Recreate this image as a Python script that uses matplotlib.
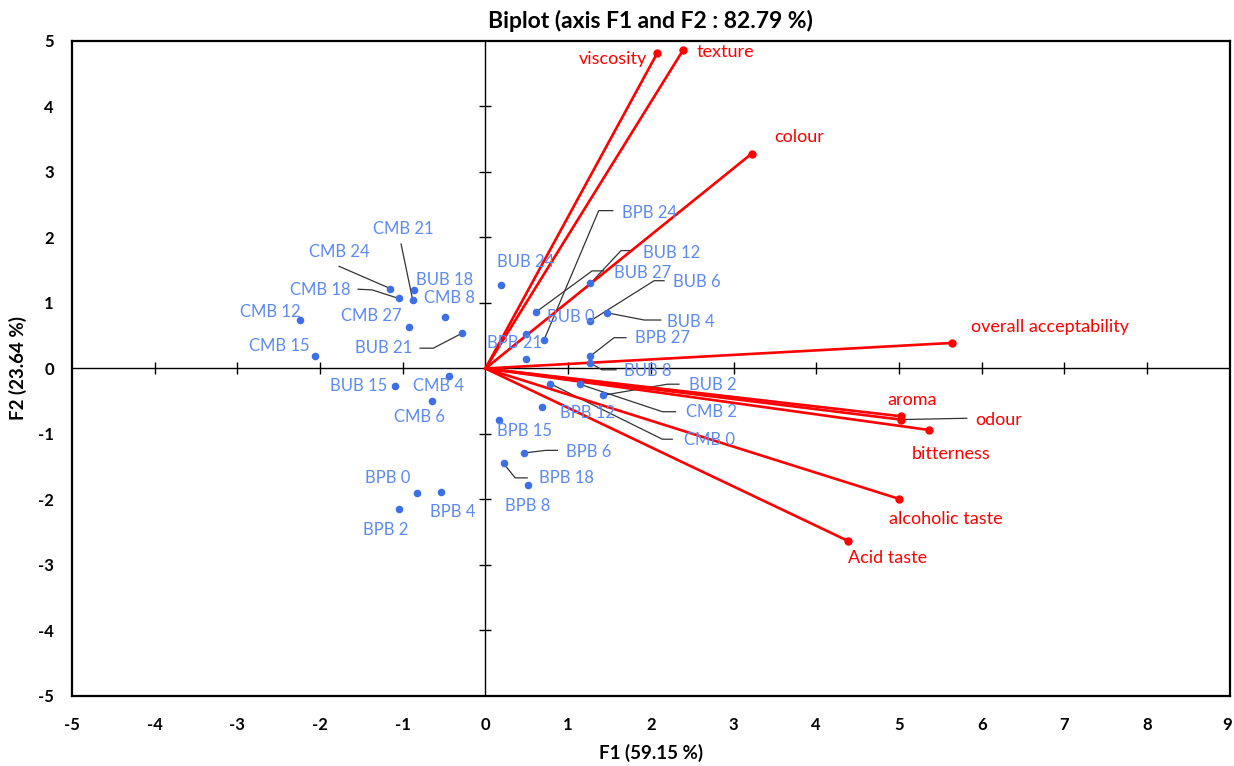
import matplotlib
matplotlib.use("Agg")
import matplotlib.pyplot as plt
from matplotlib.transforms import ScaledTranslation

plt.rcParams["font.family"] = ["Lato", "DejaVu Sans"]
plt.rcParams["axes.unicode_minus"] = False

# observations (F1, F2)
obs_names = ["CMB 0", "CMB 2", "CMB 4", "CMB 6", "CMB 8", "CMB 12", "CMB 15", "CMB 18", "CMB 21", "CMB 24", "CMB 27",
             "BUB 0", "BUB 2", "BUB 4", "BUB 6", "BUB 8", "BUB 12", "BUB 15", "BUB 18", "BUB 21", "BUB 24", "BUB 27",
             "BPB 0", "BPB 2", "BPB 4", "BPB 6", "BPB 8", "BPB 12", "BPB 15", "BPB 18", "BPB 21", "BPB 24", "BPB 27"]
obs_f1 = [0.78, 1.14, -0.44, -0.64, -0.49, -2.24, -2.06, -1.05, -0.88, -1.15, -0.92,
          0.49, 1.42, 1.47, 1.26, 1.26, 1.27, -1.09, -0.86, -0.28, 0.19, 0.61,
          -0.83, -1.04, -0.54, 0.47, 0.51, 0.68, 0.16, 0.22, 0.49, 0.71, 1.27]
obs_f2 = [-0.23, -0.24, -0.11, -0.49, 0.78, 0.74, 0.19, 1.07, 1.05, 1.22, 0.64,
          0.15, -0.41, 0.85, 0.72, 0.09, 1.30, -0.26, 1.20, 0.54, 1.27, 0.86,
          -1.90, -2.15, -1.88, -1.29, -1.78, -0.59, -0.78, -1.45, 0.52, 0.44, 0.19]

# variables (F1, F2)
var_names = ["viscosity", "texture", "colour", "overall acceptability", "aroma", "odour",
             "bitterness", "alcoholic taste", "Acid taste"]
var_f1 = [2.08, 2.39, 3.22, 5.64, 5.03, 5.02, 5.37, 5.00, 4.38]
var_f2 = [4.82, 4.86, 3.28, 0.39, -0.73, -0.78, -0.94, -1.99, -2.63]

# label placement
obs_label_pos = {
    "CMB 21": (-1.36, 2.13), "CMB 24": (-2.13, 1.78), "CMB 18": (-2.36, 1.20), "BUB 18": (-0.84, 1.35),
    "CMB 8": (-0.74, 1.07), "CMB 27": (-1.75, 0.80), "BUB 21": (-1.58, 0.31), "CMB 12": (-2.97, 0.86),
    "CMB 15": (-2.86, 0.34), "BUB 15": (-1.88, -0.26), "CMB 4": (-0.88, -0.26), "CMB 6": (-1.11, -0.74),
    "BPB 0": (-1.46, -1.67), "BPB 4": (-0.675, -2.19), "BPB 2": (-1.48, -2.47),
    "BUB 24": (0.14, 1.63), "BPB 24": (1.65, 2.38), "BUB 12": (1.91, 1.77), "BUB 27": (1.555, 1.46),
    "BUB 6": (2.27, 1.32), "BUB 4": (2.20, 0.71), "BUB 0": (0.75, 0.78), "BPB 21": (0.02, 0.385),
    "BPB 27": (1.81, 0.47), "BUB 8": (1.68, -0.04), "BUB 2": (2.465, -0.25), "CMB 2": (2.42, -0.67),
    "CMB 0": (2.40, -1.09), "BPB 12": (0.90, -0.685), "BPB 15": (0.14, -0.955), "BPB 6": (0.98, -1.28),
    "BPB 18": (0.65, -1.67), "BPB 8": (0.24, -2.10),
}
obs_leaders = {
    "CMB 21": [(-1.02, 1.90)], "CMB 24": [(-1.77, 1.56)], "CMB 18": [(-1.54, 1.21), (-1.37, 1.20)],
    "BUB 21": [(-0.79, 0.31), (-0.63, 0.31)], "BPB 24": [(1.54, 2.41), (1.37, 2.41)],
    "BUB 12": [(1.78, 1.80), (1.64, 1.80)], "BUB 27": [(1.43, 1.49), (1.29, 1.49)],
    "BUB 6": [(2.16, 1.34), (2.04, 1.34)], "BUB 4": [(2.12, 0.74), (1.92, 0.74)],
    "BPB 27": [(1.70, 0.47), (1.555, 0.47)], "BUB 8": [(1.58, -0.02), (1.41, -0.02)],
    "BUB 2": [(2.34, -0.24), (2.20, -0.24)], "CMB 2": [(2.30, -0.66), (2.14, -0.66)],
    "CMB 0": [(2.26, -1.08), (2.14, -1.08)], "BPB 6": [(0.87, -1.25), (0.73, -1.25)],
    "BPB 18": [(0.505, -1.67), (0.36, -1.67)],
}
var_label_pos = {
    "viscosity": (1.95, 4.72, "right"), "texture": (2.55, 4.83, "left"), "colour": (3.49, 3.53, "left"),
    "overall acceptability": (5.87, 0.64, "left"), "aroma": (4.86, -0.48, "left"),
    "odour": (5.92, -0.79, "left"), "bitterness": (5.15, -1.31, "left"),
    "alcoholic taste": (4.88, -2.30, "left"), "Acid taste": (4.39, -2.90, "left"),
}
var_leaders = {"odour": [(5.82, -0.76)]}

BLUE_PT = "#3D6FE6"
BLUE_TXT = "#5C8AF2"
RED = "#FF0000"

fig = plt.figure(figsize=(12.34, 7.66), dpi=100)
ax = fig.add_axes([0.0583, 0.0914, 0.9382, 0.8551])
ax.set_xlim(-5, 9)
ax.set_ylim(-5, 5)

# central axes with crossing ticks
ax.axhline(0, color="black", lw=1.0, zorder=1)
ax.axvline(0, color="black", lw=1.0, zorder=1)
xt = [v for v in range(-4, 9) if v != 0]
yt = [v for v in range(-4, 5) if v != 0]
ax.plot(xt, [0] * len(xt), ls="none", marker="|", ms=9, mew=1.0, color="black", zorder=1)
ax.plot([0] * len(yt), yt, ls="none", marker="_", ms=9, mew=1.0, color="black", zorder=1)

# leader lines
for name, pts in obs_leaders.items():
    i = obs_names.index(name)
    xs = [p[0] for p in pts] + [obs_f1[i]]
    ys = [p[1] for p in pts] + [obs_f2[i]]
    ax.plot(xs, ys, color="#333333", lw=0.9, zorder=2)
for name, pts in var_leaders.items():
    i = var_names.index(name)
    xs = [p[0] for p in pts] + [var_f1[i]]
    ys = [p[1] for p in pts] + [var_f2[i]]
    ax.plot(xs, ys, color="#333333", lw=0.9, zorder=2)

# variable vectors
for i, name in enumerate(var_names):
    ax.plot([0, var_f1[i]], [0, var_f2[i]], color=RED, lw=1.9, zorder=3)
    ax.plot(var_f1[i], var_f2[i], "o", color=RED, ms=5, zorder=4)
    tx, ty, ha = var_label_pos[name]
    ax.text(tx, ty, name, color=RED, fontsize=13, ha=ha, va="center", zorder=5)

# observations
ax.scatter(obs_f1, obs_f2, s=30, color=BLUE_PT, zorder=5, linewidths=0)
for i, name in enumerate(obs_names):
    tx, ty = obs_label_pos[name]
    ax.text(tx, ty, name, color=BLUE_TXT, fontsize=12, ha="left", va="center", zorder=6)

ax.set_xticks(range(-5, 10))
ax.set_yticks(range(-5, 6))
ax.tick_params(length=0, labelsize=12)
ax.tick_params(axis="x", pad=15)
ax.tick_params(axis="y", pad=13)
for lab in ax.get_xticklabels() + ax.get_yticklabels():
    lab.set_fontweight("bold")
# keep the last x tick label inside the canvas
last = ax.get_xticklabels()[-1]
last.set_transform(last.get_transform() + ScaledTranslation(-3 / 100, 0, fig.dpi_scale_trans))
for sp in ax.spines.values():
    sp.set_linewidth(1.6)

ax.set_title("Biplot (axis F1 and F2 : 82.79 %)", fontsize=16.5, fontweight="bold", pad=9)
ax.set_xlabel("F1 (59.15 %)", fontsize=13.5, fontweight="bold", labelpad=8)
ax.set_ylabel("F2 (23.64 %)", fontsize=13.5, fontweight="bold", labelpad=8)

fig.savefig("out.png", dpi=100, facecolor="white")
